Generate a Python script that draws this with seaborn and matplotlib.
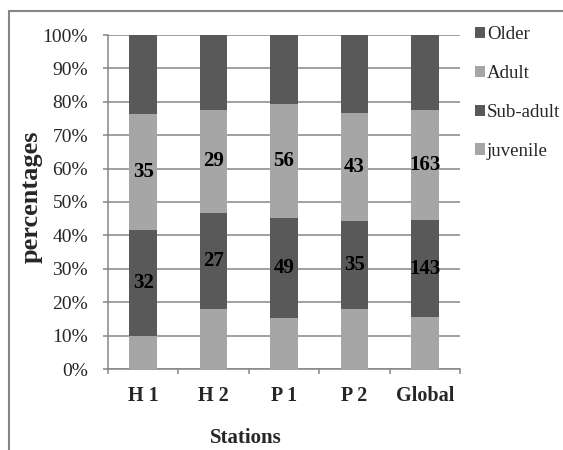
import matplotlib
matplotlib.use("Agg")
import matplotlib.pyplot as plt
import seaborn as sns
import pandas as pd
import numpy as np
from matplotlib.patches import Patch
from matplotlib.lines import Line2D
from matplotlib.ticker import PercentFormatter, FixedLocator

# Counts per age class at each station
stations = ["H 1", "H 2", "P 1", "P 2", "Global"]
juvenile = [10, 17, 25, 24, 76]
sub_adult = [32, 27, 49, 35, 143]
adult = [35, 29, 56, 43, 163]
older = [24, 21, 34, 31, 110]

classes = ["juvenile", "Sub-adult", "Adult", "Older"]
counts = np.array([juvenile, sub_adult, adult, older], dtype=float)
totals = counts.sum(axis=0)
shares = counts / totals
cum = np.cumsum(shares, axis=0)

light = "#a6a6a6"
dark = "#595959"
colors = {"juvenile": light, "Sub-adult": dark, "Adult": light, "Older": dark}

sns.set_theme(style="white")
plt.rcParams["font.family"] = ["Liberation Serif", "DejaVu Serif"]

W, H = 563, 450
x0, x1, y0, y1 = 108, 460, 369, 35  # plot area in pixels
fig = plt.figure(figsize=(W / 100, H / 100), dpi=100)
ax = fig.add_axes([x0 / W, 1 - y0 / H, (x1 - x0) / W, (y0 - y1) / H])
aw, ah = x1 - x0, y0 - y1

# stacked bars: draw cumulative tops from the outermost layer inward
for i in range(len(classes) - 1, -1, -1):
    df = pd.DataFrame({"station": stations, "top": cum[i]})
    sns.barplot(data=df, x="station", y="top", color=colors[classes[i]],
                width=0.39, saturation=1, ax=ax, zorder=3, edgecolor="none")

# value labels for Sub-adult and Adult segments
for i in (1, 2):
    for j in range(len(stations)):
        mid = cum[i - 1][j] + shares[i][j] / 2
        ax.text(j, mid, f"{int(counts[i][j])}", ha="center", va="center",
                fontsize=15, fontweight="bold", color="black", zorder=5)

ax.set_ylim(0, 1)
ax.set_xlim(-0.5, len(stations) - 0.5)
ax.yaxis.set_major_locator(FixedLocator(np.linspace(0, 1, 11)))
ax.yaxis.set_major_formatter(PercentFormatter(1.0, decimals=0))
ax.grid(axis="y", color="#868686", linewidth=1.1, zorder=0)
ax.set_axisbelow(True)

for s in ["top", "right"]:
    ax.spines[s].set_visible(False)
for s in ["left", "bottom"]:
    ax.spines[s].set_color("#868686")
    ax.spines[s].set_linewidth(1.1)

ax.tick_params(axis="y", which="major", direction="out", length=3.6, width=1.1,
               color="#868686", labelsize=14, pad=10.8, left=True)
ax.set_xticks(range(len(stations)))
ax.set_xticklabels(stations, fontsize=14.5, fontweight="bold")
ax.tick_params(axis="x", which="major", length=0, pad=12)
ax.set_xticks(np.arange(-0.5, len(stations)), minor=True)
ax.tick_params(axis="x", which="minor", direction="out", length=3.6, width=1.1,
               color="#868686", bottom=True)

ax.set_xlabel("Stations", fontsize=15, fontweight="bold")
ax.xaxis.set_label_coords((246 - x0) / aw, -(428 - y0) / ah)
ax.set_ylabel("percentages", fontsize=19, fontweight="bold")
ax.yaxis.set_label_coords(-(x0 - 43) / aw, (y0 - 197) / ah)

handles = [Patch(facecolor=colors[c], edgecolor="none") for c in classes[::-1]]
fig.legend(handles, classes[::-1], loc="upper left", bbox_to_anchor=(467 / W, 1 - 18.5 / H),
           frameon=False, fontsize=13.6, handlelength=0.55, handleheight=0.55,
           handletextpad=0.1, labelspacing=1.16, borderaxespad=0)

# chart-area frame (left and top edges)
fig.add_artist(Line2D([9 / W, 9 / W], [0, 1 - 11 / H], transform=fig.transFigure,
                      color="#868686", linewidth=1.5))
fig.add_artist(Line2D([9 / W, 1], [1 - 11 / H, 1 - 11 / H], transform=fig.transFigure,
                      color="#868686", linewidth=1.5))

fig.savefig("out.png", dpi=100)
